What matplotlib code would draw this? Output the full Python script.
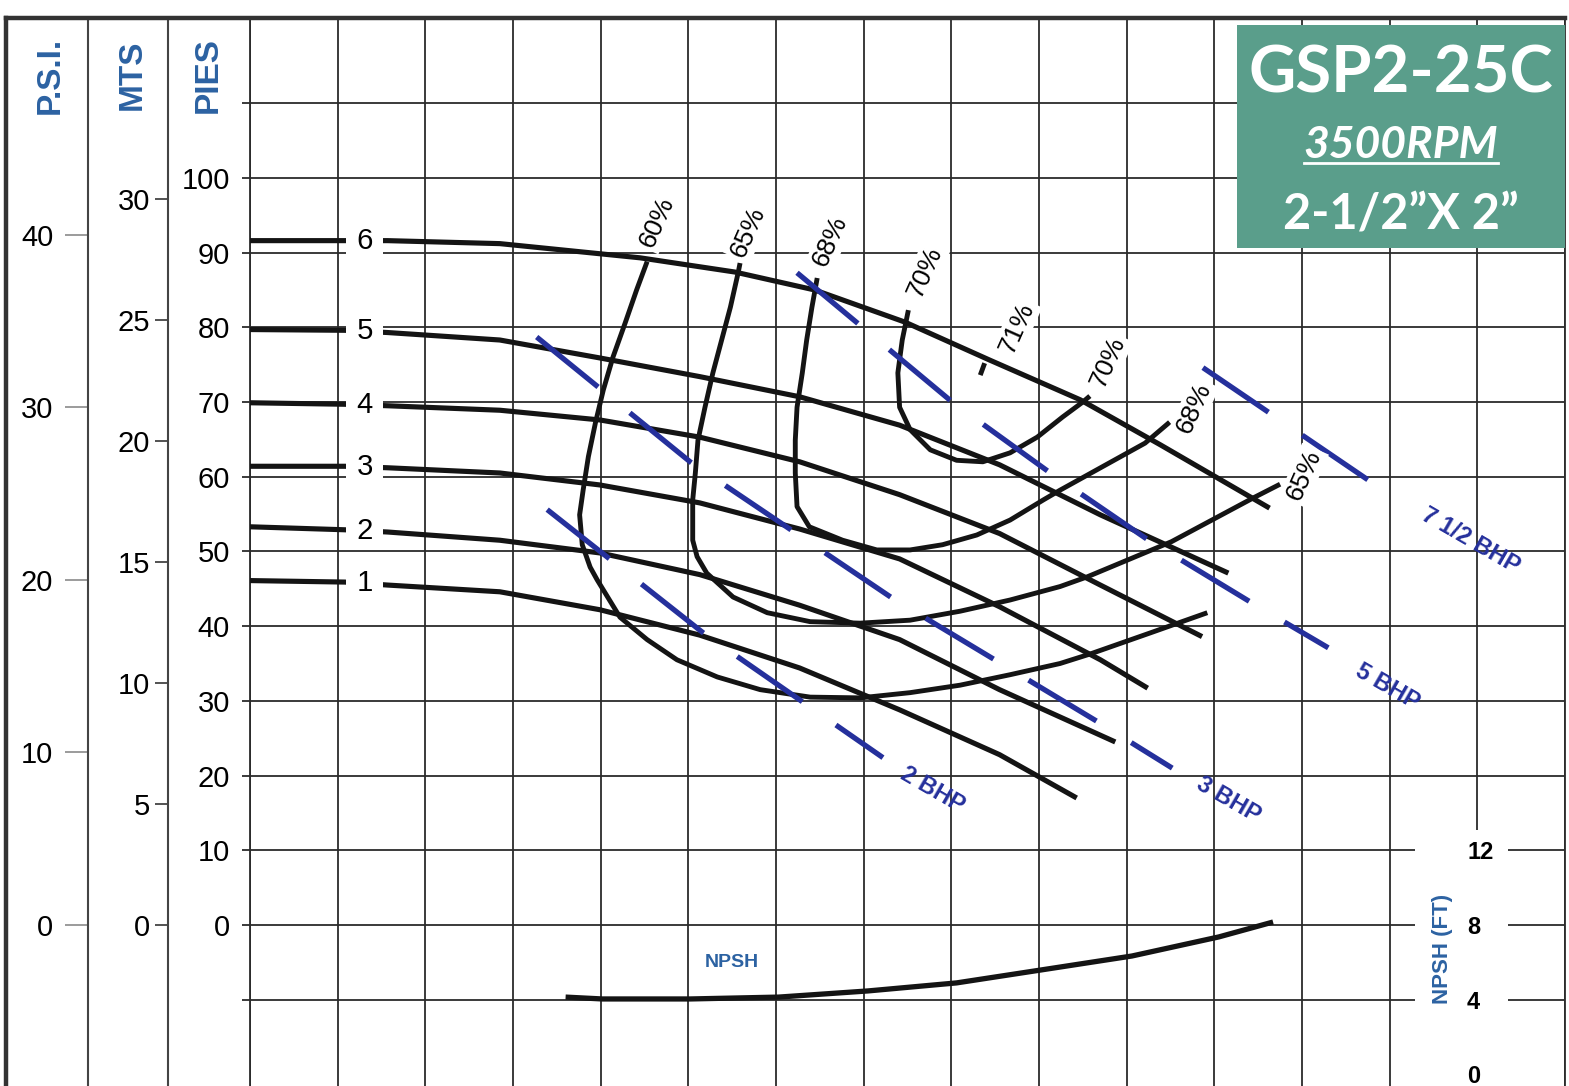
import numpy as np
import matplotlib.pyplot as plt
from matplotlib.patches import Rectangle

plt.rcParams['font.family'] = ['Liberation Sans', 'DejaVu Sans']
plt.rcParams['lines.scale_dashes'] = False

# flow in grid columns (no flow scale shown), head in feet (PIES)
h1_q = [0, 1.08, 1.57, 2.85, 3.99, 5.13, 6.27, 7.41, 8.55, 9.43]
h1_ft = [46.1, 45.9, 45.5, 44.6, 42.2, 38.8, 34.4, 28.8, 22.8, 17.0]
h2_q = [0, 1.08, 1.57, 2.85, 3.99, 5.13, 6.27, 7.41, 8.55, 9.87]
h2_ft = [53.3, 52.9, 52.6, 51.5, 49.8, 46.9, 42.8, 38.2, 31.5, 24.5]
h3_q = [0, 1.08, 1.57, 2.85, 3.99, 5.13, 6.27, 7.41, 8.55, 9.70, 10.24]
h3_ft = [61.4, 61.4, 61.2, 60.5, 58.9, 56.5, 53.0, 49.0, 42.6, 35.5, 31.7]
h4_q = [0, 1.08, 1.57, 2.85, 3.99, 5.13, 6.27, 7.41, 8.55, 9.70, 10.86]
h4_ft = [69.9, 69.7, 69.5, 68.9, 67.6, 65.3, 62.0, 57.6, 52.4, 45.5, 38.6]
h5_q = [0, 1.08, 1.57, 2.85, 3.99, 5.13, 6.27, 7.41, 8.55, 9.70, 11.16]
h5_ft = [79.7, 79.6, 79.3, 78.3, 75.9, 73.4, 70.7, 66.9, 61.6, 54.9, 47.1]
h6_q = [0, 1.08, 1.57, 2.85, 4.45, 5.53, 6.44, 7.47, 8.44, 9.47, 10.38, 11.63]
h6_ft = [91.6, 91.6, 91.6, 91.2, 89.3, 87.4, 85.0, 80.7, 75.6, 70.3, 64.3, 55.8]
head_names = ['1', '2', '3', '4', '5', '6']

# efficiency curves
e60_q = [4.53, 4.41, 4.28, 4.14, 4.03, 3.94, 3.86, 3.80, 3.76, 3.79, 3.88, 3.96, 4.22,
         4.53, 4.87, 5.33, 5.82, 6.39, 6.96, 7.53, 8.10, 8.67, 9.24, 9.59, 10.27, 10.92]
e60_ft = [88.8, 85.0, 80.6, 76.0, 71.6, 67.2, 62.7, 58.2, 54.9, 50.9, 47.9, 46.2, 41.2,
          38.2, 35.5, 33.2, 31.5, 30.5, 30.4, 31.1, 32.1, 33.5, 35.0, 36.3, 39.1, 41.8]
e65_q = [5.59, 5.57, 5.48, 5.38, 5.28, 5.19, 5.11, 5.08, 5.05, 5.05, 5.10, 5.21, 5.51,
         5.90, 6.39, 6.96, 7.53, 8.10, 8.67, 9.24, 9.55, 10.51, 11.45, 11.75]
e65_ft = [88.6, 87.4, 82.7, 78.3, 73.9, 69.3, 64.9, 60.5, 56.9, 51.5, 49.3, 47.1, 43.9,
          41.8, 40.6, 40.4, 40.8, 42.0, 43.5, 45.3, 46.6, 51.3, 57.2, 59.0]
e68_q = [6.47, 6.41, 6.35, 6.30, 6.24, 6.22, 6.22, 6.24, 6.38, 6.76, 7.15, 7.53, 7.90,
         8.29, 8.67, 9.05, 9.24, 10.21, 10.49]
e68_ft = [86.6, 82.7, 78.3, 73.9, 69.3, 64.9, 60.5, 56.0, 53.3, 51.5, 50.2, 50.2, 50.9,
          52.2, 54.2, 56.9, 58.2, 64.5, 67.3]
e70_q = [7.51, 7.44, 7.39, 7.41, 7.53, 7.76, 8.06, 8.36, 8.67, 8.98, 9.27, 9.50, 9.58]
e70_ft = [82.3, 78.3, 73.9, 69.3, 66.3, 63.6, 62.2, 62.0, 63.2, 65.3, 68.0, 70.0, 70.8]
e71_q = [8.33, 8.38]
e71_ft = [73.6, 75.2]

eff_labels = ['60%', '65%', '68%', '70%', '71%', '70%', '68%', '65%']
eff_label_q = [4.64, 5.68, 6.62, 7.70, 8.75, 9.79, 10.77, 12.02]
eff_label_ft = [94.1, 92.8, 91.6, 87.4, 79.9, 75.3, 69.2, 60.2]

# brake horsepower lines
bhp2_q = [3.39, 5.17, 7.22]
bhp2_ft = [55.6, 39.1, 22.4]
bhp3_q = [3.27, 5.02, 7.32, 9.67, 10.52]
bhp3_ft = [78.7, 62.0, 43.8, 27.2, 21.0]
bhp5_q = [6.24, 8.01, 9.13, 10.25, 11.43, 12.30]
bhp5_ft = [87.3, 70.0, 60.5, 51.5, 43.1, 37.1]
bhp75_q = [10.87, 12.75]
bhp75_ft = [74.6, 59.6]
bhp_labels = ['2 BHP', '3 BHP', '5 BHP', '7 1/2 BHP']
bhp_label_q = [7.78, 11.16, 12.98, 13.92]
bhp_label_ft = [18.1, 16.7, 31.9, 51.5]

# NPSH required (ft)
npsh_q = [3.60, 4.02, 5.02, 6.03, 7.05, 8.06, 9.02, 10.06, 11.05, 11.67]
npsh_ft = [4.14, 4.04, 4.04, 4.14, 4.47, 4.90, 5.59, 6.34, 7.36, 8.16]

pies_ticks = list(range(-10, 111, 10))
psi_ticks = [0, 10, 20, 30, 40]
mts_ticks = [0, 5, 10, 15, 20, 25, 30]
npsh_ticks = [0, 4, 8, 12]

GRID = '#2b2b2b'
CURVE = '#141414'
TXT_BLUE = '#2c62a2'
BHP_BLUE = '#25309c'
TEAL = '#5a9e8b'

W, H = 1569, 1086
fig = plt.figure(figsize=(W / 100, H / 100), dpi=100)
fig.patch.set_facecolor('white')

frame = fig.add_axes([6 / W, 0, 1559 / W, 1068 / H])
frame.set_xticks([])
frame.set_yticks([])
frame.patch.set_visible(False)
frame.spines[['right', 'bottom']].set_visible(False)
frame.spines[['top', 'left']].set_linewidth(3.2)
frame.spines[['top', 'left']].set_color('#333333')
frame.set_zorder(10)

ax = fig.add_axes([250 / W, 0, 1315 / W, 1068 / H])
ax.patch.set_visible(False)
ax.set_xlim(0, 15)
ax.set_ylim(-21.55, 121.4)
ax.spines[['top', 'bottom']].set_visible(False)
ax.spines[['left', 'right']].set_color(GRID)
ax.spines[['left', 'right']].set_linewidth(1.3)
ax.set_xticks(np.arange(0, 16))
ax.tick_params(axis='x', length=0, labelbottom=False)
ax.set_yticks(pies_ticks)
ax.set_yticklabels(['' if v in (-10, 110) else str(v) for v in pies_ticks])
ax.tick_params(axis='y', length=5.8, width=1.3, color=GRID, pad=8.6, labelsize=21)
ax.grid(True, color=GRID, lw=1.3)

psi = ax.secondary_yaxis(-162 / 1315, functions=(lambda f: f / 2.31, lambda p: p * 2.31))
psi.set_yticks(psi_ticks)
psi.tick_params(length=16.5, width=1.2, color='#8a8a8a', pad=8.6, labelsize=21)
psi.spines['left'].set_color('#444444')
psi.spines['left'].set_linewidth(1.5)

mts = ax.secondary_yaxis(-82 / 1315, functions=(lambda f: f / 3.24, lambda m: m * 3.24))
mts.set_yticks(mts_ticks)
mts.tick_params(length=9.4, width=1.3, color='#444444', pad=3.6, labelsize=21)
mts.spines['left'].set_color('#444444')
mts.spines['left'].set_linewidth(1.5)

# white strip behind the NPSH scale
ax.add_patch(Rectangle((13.29, -25), 1.06, 37.7, fc='white', ec='none', zorder=2))
npsh_ax = ax.secondary_yaxis((1467 - 250) / 1315,
                             functions=(lambda f: f * 0.4 + 8, lambda n: (n - 8) * 2.5))
npsh_ax.set_yticks(npsh_ticks)
npsh_ax.tick_params(length=0, pad=0, labelsize=17)
npsh_ax.spines['right'].set_visible(False)
for lab in npsh_ax.get_yticklabels():
    lab.set_fontweight('bold')
npsh_ax.set_zorder(6)
ax.text(13.60, -3.2, 'NPSH (FT)', rotation=90, ha='center', va='center',
        color=TXT_BLUE, fontsize=16, fontweight='bold', zorder=6)

# head curves
heads = [(h1_q, h1_ft), (h2_q, h2_ft), (h3_q, h3_ft),
         (h4_q, h4_ft), (h5_q, h5_ft), (h6_q, h6_ft)]
for name, (q, h) in zip(head_names, heads):
    ax.plot(q, h, color=CURVE, lw=3.7, zorder=3, solid_joinstyle='round',
            solid_capstyle='butt')
    ax.text(1.31, np.interp(1.31, q, h), ' ' + name + ' ', ha='center', va='center',
            fontsize=21, zorder=5,
            bbox=dict(boxstyle='square,pad=0.08', fc='white', ec='none'))

# efficiency curves
for q, h in [(e60_q, e60_ft), (e65_q, e65_ft), (e68_q, e68_ft), (e70_q, e70_ft), (e71_q, e71_ft)]:
    ax.plot(q, h, color=CURVE, lw=3.5, zorder=3, solid_joinstyle='round',
            solid_capstyle='butt')
for t, q, h in zip(eff_labels, eff_label_q, eff_label_ft):
    ax.text(q, h, t, rotation=66, ha='center', va='center', fontsize=19, zorder=5,
            rotation_mode='anchor',
            bbox=dict(boxstyle='square,pad=0.1', fc='white', ec='none'))

# BHP lines
for q, h in [(bhp2_q, bhp2_ft), (bhp3_q, bhp3_ft), (bhp5_q, bhp5_ft), (bhp75_q, bhp75_ft)]:
    ax.plot(q, h, color=BHP_BLUE, lw=3.8, zorder=4, dashes=(57, 29.5),
            dash_capstyle='butt')
for t, q, h in zip(bhp_labels, bhp_label_q, bhp_label_ft):
    ax.text(q, h, t, rotation=-30, ha='center', va='center', fontsize=17,
            fontweight='bold', color=BHP_BLUE, rotation_mode='anchor', zorder=5)

# NPSH curve, on the NPSH scale
ax.plot(npsh_q, [(n - 8) * 2.5 for n in npsh_ft], color=CURVE, lw=3.8, zorder=3,
        solid_capstyle='butt')
ax.text(5.50, -5.0, 'NPSH', ha='center', va='center', color=TXT_BLUE,
        fontsize=14, fontweight='bold', zorder=5)

# axis titles
for t, x in [('P.S.I.', 50), ('MTS', 132), ('PIES', 208)]:
    fig.text(x / W, 1 - 75 / H, t, rotation=90, ha='center', va='center',
             color=TXT_BLUE, fontsize=24, fontweight='bold')

# model box
ax.add_patch(Rectangle((0.7506, 0.7846), 0.2494, 0.2088, transform=ax.transAxes,
                       fc=TEAL, ec='none', zorder=6))
ax.text(0.8753, 0.9476, 'GSP2-25C', transform=ax.transAxes, ha='center', va='center',
        color='white', fontsize=47, fontweight='bold', family='Lato', zorder=7)
rpm = ax.text(0.8753, 0.8811, '3500RPM', transform=ax.transAxes, ha='center', va='center',
              color='white', fontsize=32, fontstyle='italic', fontweight='bold',
              family='Lato', zorder=7)
ax.text(0.8753, 0.8155, '2-1/2\u201dX 2\u201d', transform=ax.transAxes, ha='center',
        va='center', color='white', fontsize=35, fontweight='bold', family='Lato', zorder=7)

fig.canvas.draw()
bb = rpm.get_window_extent()
inv = ax.transAxes.inverted()
(ux0, uy), (ux1, _) = inv.transform([(bb.x0, bb.y0 + 2), (bb.x1, bb.y0 + 2)])
ax.plot([ux0, ux1], [uy, uy], transform=ax.transAxes, color='white', lw=2, zorder=7)

fig.savefig('out.png', dpi=100)
